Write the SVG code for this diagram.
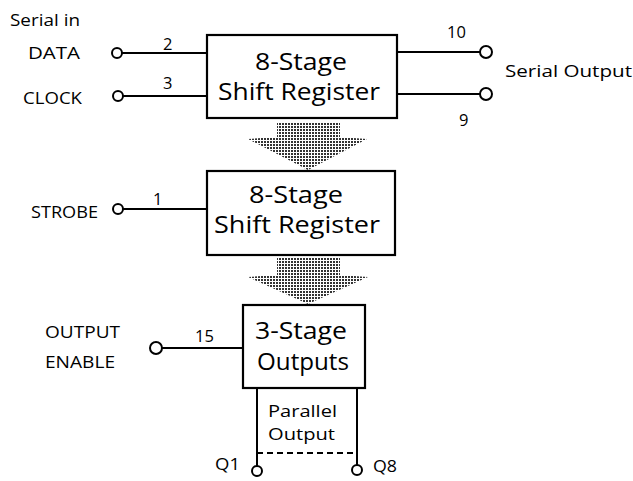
<svg xmlns="http://www.w3.org/2000/svg" width="633" height="481" viewBox="0 0 633 481">
<defs>
<pattern id="dots" width="3" height="3" patternUnits="userSpaceOnUse">
<rect width="3" height="3" fill="#ffffff"/>
<rect width="2" height="2" fill="#333333"/>
</pattern>
<style>
.box{fill:#fff;stroke:#000;stroke-width:2.2}
.w{stroke:#000;stroke-width:2;fill:none}
.pin{fill:#fff;stroke:#000;stroke-width:2}
.big{font-family:"Open Sans","Liberation Sans",sans-serif;font-size:23.5px;fill:#000}
.lbl{font-family:"Open Sans","Liberation Sans",sans-serif;font-size:16.5px;fill:#000}
.arr{fill:url(#dots);stroke:none}
</style>
</defs>
<rect width="633" height="481" fill="#fff"/>

<g id="connectors">
<line class="w" x1="122" y1="53" x2="207" y2="53"/>
<line class="w" x1="123" y1="96" x2="207" y2="96"/>
<line class="w" x1="396" y1="52" x2="480" y2="52"/>
<line class="w" x1="396" y1="94" x2="480" y2="94"/>
<line class="w" x1="123" y1="209" x2="207" y2="209"/>
<line class="w" x1="162" y1="348" x2="243" y2="348"/>
<line class="w" x1="257" y1="388" x2="257" y2="466"/>
<line class="w" x1="357" y1="388" x2="357" y2="465"/>
<line class="w" x1="257" y1="453" x2="357" y2="453" stroke-dasharray="6,4"/>
<polygon class="arr" points="277,123 340,123 340,137 367,139 308,170 248,139 277,137"/>
<polygon class="arr" points="277,258 340,258 340,275 368,277 308,304 248,277 277,275"/>
</g>

<g id="pins">
<circle class="pin" cx="117" cy="53" r="5"/>
<circle class="pin" cx="118" cy="96" r="5"/>
<circle class="pin" cx="486" cy="52" r="6"/>
<circle class="pin" cx="486" cy="94" r="6"/>
<circle class="pin" cx="118" cy="209" r="5"/>
<circle class="pin" cx="156" cy="348" r="6"/>
<circle class="pin" cx="257" cy="471" r="5"/>
<circle class="pin" cx="357" cy="470" r="5"/>
</g>

<g id="shift1">
<rect class="box" x="207" y="35" width="190" height="83"/>
<text class="big" x="255" y="70" textLength="92" lengthAdjust="spacingAndGlyphs">8-Stage</text>
<text class="big" x="218" y="100" textLength="162" lengthAdjust="spacingAndGlyphs">Shift Register</text>
</g>

<g id="shift2">
<rect class="box" x="207" y="171" width="188" height="84"/>
<text class="big" x="249" y="203" textLength="94" lengthAdjust="spacingAndGlyphs">8-Stage</text>
<text class="big" x="214" y="233" textLength="166" lengthAdjust="spacingAndGlyphs">Shift Register</text>
</g>

<g id="outputs">
<rect class="box" x="243" y="305" width="122" height="83"/>
<text class="big" x="255" y="339" textLength="92" lengthAdjust="spacingAndGlyphs">3-Stage</text>
<text class="big" x="257" y="370" textLength="92" lengthAdjust="spacingAndGlyphs">Outputs</text>
</g>

<g id="labels">
<text class="lbl" x="10" y="26" textLength="70" lengthAdjust="spacingAndGlyphs">Serial in</text>
<text class="lbl" x="28" y="59" textLength="52" lengthAdjust="spacingAndGlyphs">DATA</text>
<text class="lbl" x="23" y="104" textLength="59" lengthAdjust="spacingAndGlyphs">CLOCK</text>
<text class="lbl" x="163" y="50">2</text>
<text class="lbl" x="163" y="89">3</text>
<text class="lbl" x="447" y="38">10</text>
<text class="lbl" x="459" y="126">9</text>
<text class="lbl" x="505" y="77" textLength="127" lengthAdjust="spacingAndGlyphs">Serial Output</text>
<text class="lbl" x="31" y="218" textLength="67" lengthAdjust="spacingAndGlyphs">STROBE</text>
<text class="lbl" x="153" y="205">1</text>
<text class="lbl" x="45" y="338" textLength="75" lengthAdjust="spacingAndGlyphs">OUTPUT</text>
<text class="lbl" x="45" y="368" textLength="70" lengthAdjust="spacingAndGlyphs">ENABLE</text>
<text class="lbl" x="195" y="342">15</text>
<text class="lbl" x="268" y="417" textLength="69" lengthAdjust="spacingAndGlyphs">Parallel</text>
<text class="lbl" x="268" y="440" textLength="67" lengthAdjust="spacingAndGlyphs">Output</text>
<text class="lbl" x="215" y="470" textLength="25" lengthAdjust="spacingAndGlyphs">Q1</text>
<text class="lbl" x="373" y="472" textLength="24" lengthAdjust="spacingAndGlyphs">Q8</text>
</g>
</svg>
